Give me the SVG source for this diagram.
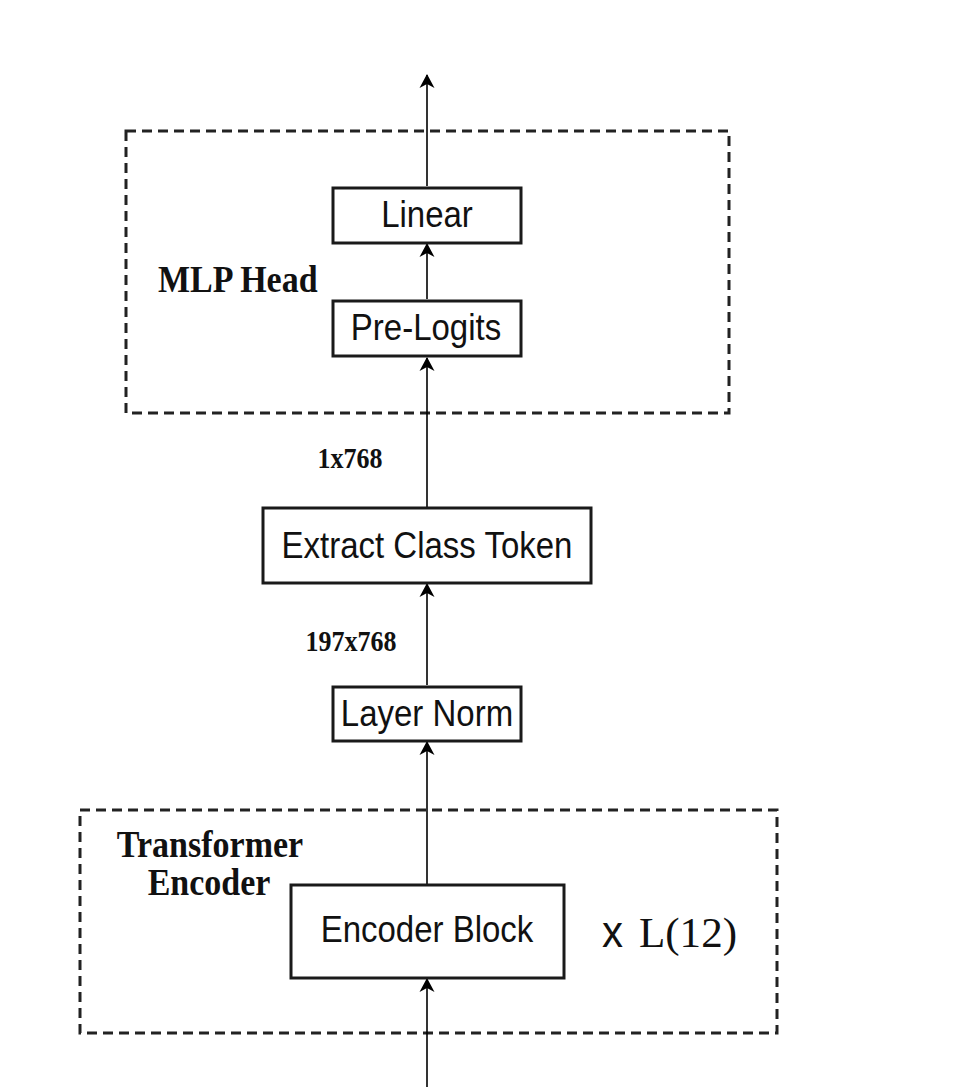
<svg xmlns="http://www.w3.org/2000/svg" width="963" height="1087" viewBox="0 0 963 1087">
<defs>
<marker id="arr" viewBox="0 0 14 16" refX="13" refY="8" markerWidth="14" markerHeight="16" markerUnits="userSpaceOnUse" orient="auto">
<path d="M0,0.5 L14,8 L0,15.5 L4,8 Z" fill="#000"/>
</marker>
<style>
.box{fill:#fff;stroke:#1a1a1a;stroke-width:3}
.grp{fill:none;stroke:#222;stroke-width:3;stroke-dasharray:10 6}
.lbl{font-family:"Liberation Sans",Arial,sans-serif;font-size:33px;fill:#111;text-anchor:middle}
.bold{font-family:"Liberation Serif","Times New Roman",serif;font-weight:bold;fill:#111}
.edge{stroke:#000;stroke-width:1.6;fill:none;marker-end:url(#arr)}
</style>
</defs>
<rect width="963" height="1087" fill="#fff"/>
<g id="mlp-head-group">
<rect class="grp" x="126" y="131" width="603" height="282"/>
<text class="bold" transform="translate(158,292) scale(1,1.1)" font-size="34">MLP Head</text>
</g>
<g id="transformer-encoder-group">
<rect class="grp" x="80" y="810" width="697" height="223"/>
<text class="bold" transform="translate(210,857) scale(1,1.1)" font-size="34" text-anchor="middle">Transformer</text>
<text class="bold" transform="translate(209,895) scale(1,1.1)" font-size="34" text-anchor="middle">Encoder</text>
<text transform="translate(602,947) scale(1,1.05)" font-family="Liberation Sans,Arial,sans-serif" font-size="42" fill="#111">x</text>
<text transform="translate(639,947) scale(1,1.05)" font-family="Liberation Serif,Times New Roman,serif" font-size="41" fill="#111" textLength="98" lengthAdjust="spacingAndGlyphs">L(12)</text>
</g>
<g id="connectors">
<line class="edge" x1="427" y1="186" x2="427" y2="75"/>
<line class="edge" x1="427" y1="299" x2="427" y2="244"/>
<line class="edge" x1="427" y1="507" x2="427" y2="358"/>
<line class="edge" x1="427" y1="685" x2="427" y2="584"/>
<line class="edge" x1="427" y1="884" x2="427" y2="742"/>
<line class="edge" x1="427" y1="1087" x2="427" y2="979"/>
</g>
<g id="linear">
<rect class="box" x="333" y="188" width="188" height="55"/>
<text class="lbl" transform="translate(427,227) scale(1,1.1)">Linear</text>
</g>
<g id="pre-logits">
<rect class="box" x="333" y="301" width="188" height="55"/>
<text class="lbl" transform="translate(426,340) scale(1,1.1)">Pre-Logits</text>
</g>
<g id="label-1x768">
<text class="bold" transform="translate(350,468) scale(1,1.15)" font-size="26" text-anchor="middle">1x768</text>
</g>
<g id="extract-class-token">
<rect class="box" x="263" y="508" width="328" height="75"/>
<text class="lbl" transform="translate(427,558) scale(1,1.1)">Extract Class Token</text>
</g>
<g id="label-197x768">
<text class="bold" transform="translate(351,651) scale(1,1.15)" font-size="26" text-anchor="middle">197x768</text>
</g>
<g id="layer-norm">
<rect class="box" x="333" y="687" width="188" height="54"/>
<text class="lbl" transform="translate(427,726) scale(1,1.1)">Layer Norm</text>
</g>
<g id="encoder-block">
<rect class="box" x="291" y="885" width="273" height="93"/>
<text class="lbl" transform="translate(427,942) scale(1,1.1)">Encoder Block</text>
</g>
</svg>
